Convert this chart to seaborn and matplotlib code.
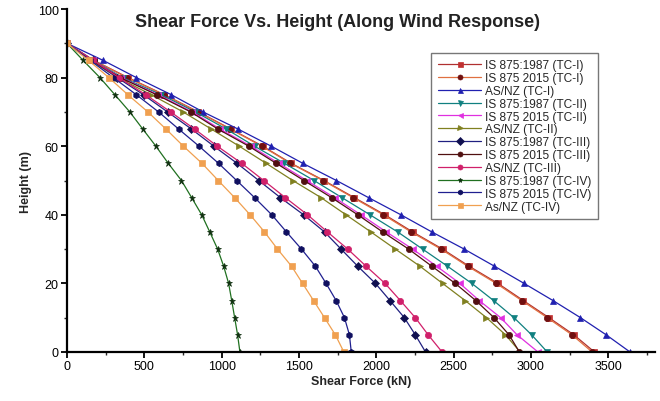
import matplotlib
matplotlib.use("Agg")
import matplotlib.pyplot as plt
import seaborn as sns
import pandas as pd
from matplotlib.ticker import MultipleLocator

sns.set_theme(style="white")
plt.rcParams['font.family'] = ['Liberation Sans', 'DejaVu Sans']

heights = [90, 85, 80, 75, 70, 65, 60, 55, 50, 45, 40, 35, 30, 25, 20, 15, 10, 5, 0]

labels = ["IS 875:1987 (TC-I)", "IS 875 2015 (TC-I)", "AS/NZ (TC-I)",
          "IS 875:1987 (TC-II)", "IS 875 2015 (TC-II)", "AS/NZ (TC-II)",
          "IS 875:1987 (TC-III)", "IS 875 2015 (TC-III)", "AS/NZ (TC-III)",
          "IS 875:1987 (TC-IV)", "IS 875 2015 (TC-IV)", "As/NZ (TC-IV)"]

is1987_tc1 = [0, 175, 395, 630, 850, 1060, 1266, 1450, 1661, 1858, 2055, 2235, 2428, 2600, 2786, 2950, 3116, 3277, 3410]
is2015_tc1 = [0, 172, 390, 625, 845, 1055, 1260, 1445, 1655, 1850, 2045, 2225, 2418, 2590, 2775, 2940, 3105, 3265, 3395]
asnz_tc1 = [0, 235, 449, 675, 880, 1106, 1321, 1525, 1742, 1950, 2159, 2359, 2568, 2764, 2955, 3142, 3320, 3486, 3640]
is1987_tc2 = [0, 170, 360, 610, 830, 1030, 1213, 1406, 1597, 1778, 1959, 2138, 2299, 2460, 2617, 2758, 2890, 3004, 3105]
is2015_tc2 = [0, 165, 350, 590, 810, 990, 1190, 1370, 1550, 1730, 1900, 2065, 2235, 2390, 2540, 2665, 2804, 2910, 3045]
asnz_tc2 = [0, 150, 330, 545, 751, 933, 1114, 1288, 1460, 1643, 1804, 1965, 2123, 2282, 2428, 2574, 2712, 2835, 2930]
is1987_tc3 = [0, 165, 325, 495, 650, 805, 950, 1100, 1240, 1380, 1530, 1665, 1772, 1880, 1994, 2088, 2181, 2252, 2318]
is2015_tc3 = [0, 160, 345, 580, 800, 976, 1176, 1353, 1532, 1711, 1880, 2041, 2209, 2359, 2510, 2643, 2761, 2858, 2925]
asnz_tc3 = [0, 170, 335, 510, 670, 825, 972, 1130, 1272, 1412, 1555, 1684, 1815, 1934, 2056, 2155, 2252, 2335, 2425]
is1987_tc4 = [0, 105, 213, 310, 406, 490, 575, 655, 740, 806, 871, 923, 974, 1013, 1045, 1065, 1084, 1103, 1118]
is2015_tc4 = [0, 150, 300, 449, 592, 722, 854, 980, 1097, 1213, 1324, 1419, 1516, 1606, 1675, 1740, 1794, 1826, 1838]
asnz_tc4 = [0, 140, 271, 394, 523, 640, 753, 873, 978, 1084, 1184, 1277, 1361, 1452, 1523, 1594, 1665, 1735, 1790]

series = [is1987_tc1, is2015_tc1, asnz_tc1, is1987_tc2, is2015_tc2, asnz_tc2,
          is1987_tc3, is2015_tc3, asnz_tc3, is1987_tc4, is2015_tc4, asnz_tc4]

line_colors = ["#b03030", "#e07040", "#2020b0", "#108080", "#e030e0", "#808020",
               "#202080", "#501010", "#d0206a", "#207020", "#202090", "#f0a050"]
marker_face = ["#c03030", "#701010", "#2020b0", "#108080", "#e030e0", "#808020",
               "#101050", "#501010", "#d0206a", "#103010", "#101060", "#f0a050"]
markers = ["s", "o", "^", "v", "<", ">", "D", "o", "o", "*", "h", "s"]

fig = plt.figure(figsize=(6.6, 4.02), dpi=100)
ax = fig.add_axes([0.1015, 0.122, 0.8905, 0.853])

for lab, vals, lc, mf, mk in zip(labels, series, line_colors, marker_face, markers):
    df = pd.DataFrame({"force": vals, "height": heights})
    sns.lineplot(data=df, x="force", y="height", sort=False, ax=ax, label=lab,
                 color=lc, linewidth=0.9, marker=mk, markersize=4.5,
                 markerfacecolor=mf, markeredgecolor=mf, markeredgewidth=0.5)

ax.set_xlim(0, 3800)
ax.set_ylim(0, 100)
ax.xaxis.set_major_locator(MultipleLocator(500))
ax.xaxis.set_minor_locator(MultipleLocator(250))
ax.yaxis.set_major_locator(MultipleLocator(20))
ax.yaxis.set_minor_locator(MultipleLocator(10))
for s in ["top", "right"]:
    ax.spines[s].set_visible(False)
for s in ["left", "bottom"]:
    ax.spines[s].set_color("black")
    ax.spines[s].set_linewidth(1.6)
ax.tick_params(axis="both", which="major", direction="out", length=4, width=1.3,
               labelsize=9, colors="black", bottom=True, left=True, pad=2)
ax.tick_params(axis="both", which="minor", direction="out", length=2.5, width=1.0,
               bottom=True, left=True)
ax.set_xlabel("Shear Force (kN)", fontsize=9, fontweight="bold", labelpad=2)
ax.set_ylabel("Height (m)", fontsize=9, fontweight="bold", labelpad=4)

fig.text(0.512, 0.943, "Shear Force Vs. Height (Along Wind Response)",
         ha="center", va="center", fontsize=13, fontweight="bold", color="#222222")

leg = ax.legend(loc="upper left", bbox_to_anchor=(0.61, 0.89), fontsize=8.6,
                frameon=True, fancybox=False, edgecolor="#555555",
                handlelength=3.6, handletextpad=0.3, labelspacing=0.07,
                borderpad=0.55, markerscale=0.8)
leg.get_frame().set_linewidth(1.0)

fig.savefig("out.png", dpi=100, facecolor="white")
